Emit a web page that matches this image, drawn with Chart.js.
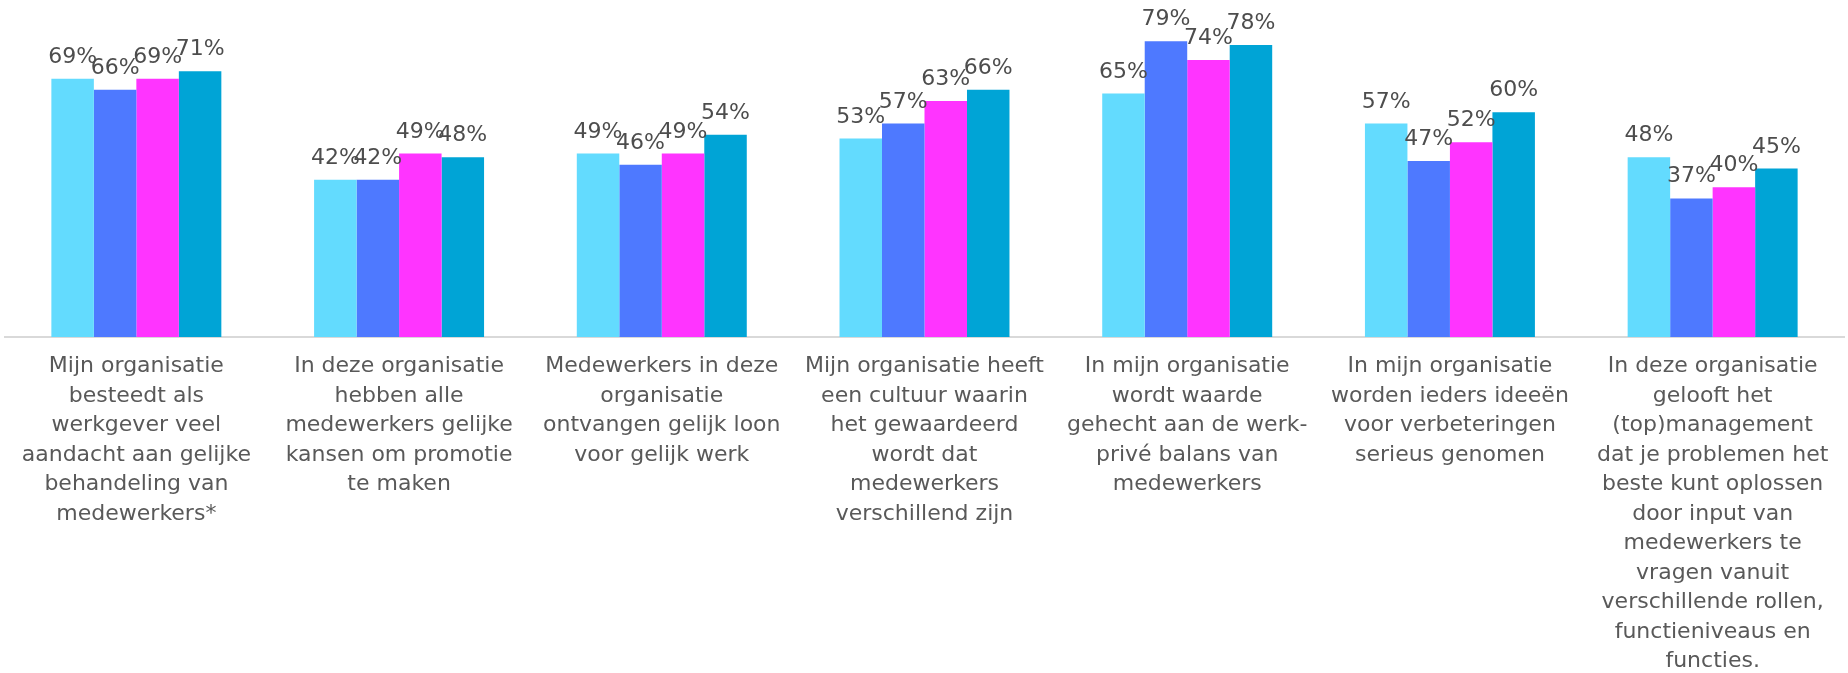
<!DOCTYPE html>
<html>
<head>
<meta charset="utf-8">
<script src="https://cdn.jsdelivr.net/npm/chart.js@4/dist/chart.umd.min.js"></script>
<style>
  html, body { margin: 0; padding: 0; background: #ffffff; }
  #wrap { width: 1848px; height: 673px; position: relative; }
</style>
</head>
<body>
<div id="wrap"><canvas id="c"></canvas></div>
<script>
const categories = [
  ["Mijn organisatie", "besteedt als", "werkgever veel", "aandacht aan gelijke", "behandeling van", "medewerkers*"],
  ["In deze organisatie", "hebben alle", "medewerkers gelijke", "kansen om promotie", "te maken"],
  ["Medewerkers in deze", "organisatie", "ontvangen gelijk loon", "voor gelijk werk"],
  ["Mijn organisatie heeft", "een cultuur waarin", "het gewaardeerd", "wordt dat", "medewerkers", "verschillend zijn"],
  ["In mijn organisatie", "wordt waarde", "gehecht aan de werk-", "privé balans van", "medewerkers"],
  ["In mijn organisatie", "worden ieders ideeën", "voor verbeteringen", "serieus genomen"],
  ["In deze organisatie", "gelooft het", "(top)management", "dat je problemen het", "beste kunt oplossen", "door input van", "medewerkers te", "vragen vanuit", "verschillende rollen,", "functieniveaus en", "functies."]
];
const series1 = [69, 42, 49, 53, 65, 57, 48];
const series2 = [66, 42, 46, 57, 79, 47, 37];
const series3 = [69, 49, 49, 63, 74, 52, 40];
const series4 = [71, 48, 54, 66, 78, 60, 45];
const seriesColors = ["#63DBFE", "#4E79FF", "#FF34FF", "#00A4D6"];

const labelPlugin = {
  id: 'valueLabels',
  afterDatasetsDraw(chart) {
    const ctx = chart.ctx;
    ctx.save();
    ctx.font = '22px "DejaVu Sans"';
    ctx.fillStyle = '#4d4d4d';
    ctx.textAlign = 'center';
    ctx.textBaseline = 'alphabetic';
    chart.data.datasets.forEach((ds, di) => {
      const meta = chart.getDatasetMeta(di);
      meta.data.forEach((el, i) => {
        ctx.fillText(ds.data[i] + '%', el.x, el.y - 16);
      });
    });
    ctx.restore();
  }
};

const mk = (data, i) => ({
  data: data,
  backgroundColor: seriesColors[i],
  borderWidth: 0,
  barPercentage: 1.0,
  categoryPercentage: 0.647
});

new Chart(document.getElementById('c'), {
  type: 'bar',
  data: {
    labels: categories,
    datasets: [mk(series1, 0), mk(series2, 1), mk(series3, 2), mk(series4, 3)]
  },
  options: {
    responsive: true,
    maintainAspectRatio: false,
    animation: false,
    layout: { padding: { left: 5, right: 4, top: 0, bottom: 0 } },
    plugins: { legend: { display: false }, tooltip: { enabled: false } },
    scales: {
      y: { display: false, min: 0, max: 90 },
      x: {
        grid: { display: false, drawTicks: false },
        border: { display: true, color: '#d9d9d9', width: 2 },
        ticks: {
          color: '#595959',
          font: { family: '"DejaVu Sans"', size: 22, lineHeight: 1.34 },
          padding: 15,
          maxRotation: 0,
          minRotation: 0,
          autoSkip: false
        },
        afterFit(scale) { scale.height = 336; }
      }
    }
  },
  plugins: [labelPlugin]
});
</script>
</body>
</html>
